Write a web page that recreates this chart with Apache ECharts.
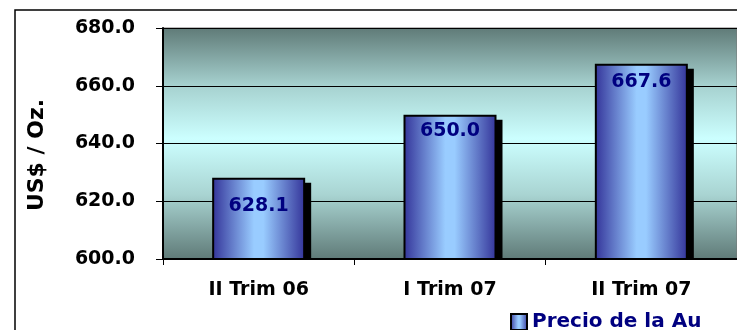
<!DOCTYPE html>
<html>
<head>
<meta charset="utf-8">
<script src="https://cdn.jsdelivr.net/npm/echarts@6/dist/echarts.min.js"></script>
<style>
  html, body { margin: 0; padding: 0; background: #fff; }
  #chart { width: 737px; height: 330px; }
</style>
</head>
<body>
<div id="chart"></div>
<script>
// Datos del gráfico
const categories = ['II Trim 06', 'I Trim 07', 'II Trim 07'];
const precios = [628.1, 650.0, 667.6];
const serieNombre = 'Precio de la Au';
const ejeY = { min: 600, max: 680, interval: 20 };

const FONT = 'DejaVu Sans';
const ANCHO_BARRA = 93;
// separación de la etiqueta respecto al borde superior de cada barra
const distEtiqueta = [19, 7, 9];

const chart = echarts.init(document.getElementById('chart'));

// degradado del fondo del área de trazado
const fondo = new echarts.graphic.LinearGradient(0, 0, 0, 1, [
    { offset: 0, color: '#5f7a77' },
    { offset: 0.25, color: '#a6d1cf' },
    { offset: 0.48, color: '#ccffff' },
    { offset: 0.72, color: '#a9d4d2' },
    { offset: 1, color: '#5f7a77' }
]);

// degradado horizontal de las barras
const barra = new echarts.graphic.LinearGradient(0, 0, 1, 0, [
    { offset: 0, color: '#333399' },
    { offset: 0.45, color: '#99ccff' },
    { offset: 0.55, color: '#99ccff' },
    { offset: 1, color: '#333399' }
]);

// sombra negra desplazada detrás de cada barra
function renderSombra(params, api) {
    const arriba = api.coord([api.value(0), api.value(1)]);
    const base = api.coord([api.value(0), ejeY.min]);
    const rect = echarts.graphic.clipRectByRect({
        x: arriba[0] - ANCHO_BARRA / 2 + 6,
        y: arriba[1] + 5,
        width: ANCHO_BARRA,
        height: base[1] - arriba[1]
    }, params.coordSys);
    return rect && { type: 'rect', shape: rect, style: { fill: '#000' } };
}

chart.setOption({
    animation: false,
    grid: {
        left: 163, top: 28, bottom: 71, right: -4,
        show: true,
        backgroundColor: fondo,
        borderColor: '#777',
        borderWidth: 1
    },
    legend: {
        data: [serieNombre],
        left: 505, top: 307,
        icon: 'rect',
        itemWidth: 16, itemHeight: 16,
        textStyle: { color: '#000080', fontFamily: FONT, fontWeight: 'bold', fontSize: 20 }
    },
    xAxis: {
        type: 'category',
        data: categories,
        axisLine: { lineStyle: { color: '#000', width: 2 } },
        axisTick: { show: true, length: 6, lineStyle: { color: '#000' } },
        axisLabel: { color: '#000', fontFamily: FONT, fontWeight: 'bold', fontSize: 19, margin: 22 }
    },
    yAxis: {
        type: 'value',
        min: ejeY.min, max: ejeY.max, interval: ejeY.interval,
        axisLine: { show: true, lineStyle: { color: '#000', width: 2 } },
        axisTick: { show: true, length: 7, lineStyle: { color: '#000' } },
        splitLine: { show: true, lineStyle: { color: '#000', width: 1 } },
        axisLabel: {
            color: '#000', fontFamily: FONT, fontWeight: 'bold', fontSize: 19, margin: 28,
            formatter: v => v.toFixed(1)
        }
    },
    graphic: [
        {
            type: 'polyline',
            shape: { points: [[15, 330], [15, 10], [737, 10]] },
            style: { stroke: '#000', lineWidth: 1.5, fill: null }
        },
        {
            type: 'text',
            x: 37, y: 155,
            rotation: Math.PI / 2,
            style: {
                text: 'US$ / Oz.',
                fill: '#000',
                font: 'bold 22px "' + FONT + '"',
                align: 'center',
                verticalAlign: 'middle'
            }
        }
    ],
    series: [
        {
            name: 'sombra',
            type: 'custom',
            z: 1,
            data: precios.map((v, i) => [i, v]),
            renderItem: renderSombra,
            silent: true
        },
        {
            name: serieNombre,
            type: 'bar',
            z: 3,
            data: precios.map((v, i) => ({ value: v, label: { distance: distEtiqueta[i] } })),
            barWidth: ANCHO_BARRA,
            itemStyle: {
                color: barra,
                borderColor: '#000',
                borderWidth: 2
            },
            label: {
                show: true,
                position: 'insideTop',
                color: '#000080',
                fontFamily: FONT,
                fontWeight: 'bold',
                fontSize: 19,
                formatter: p => p.value.toFixed(1)
            }
        }
    ]
});
</script>
</body>
</html>
